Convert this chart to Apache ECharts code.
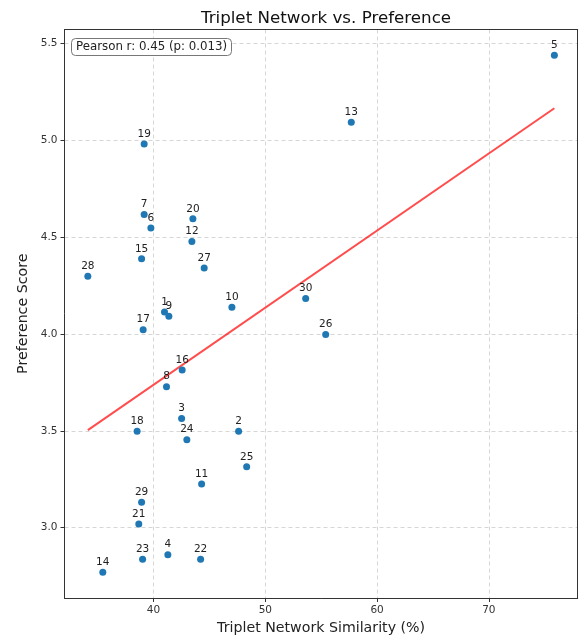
<!DOCTYPE html>
<html>
<head>
<meta charset="utf-8">
<script src="https://cdn.jsdelivr.net/npm/echarts@6/dist/echarts.min.js"></script>
<style>html,body{margin:0;padding:0;background:#fff}#c{width:581px;height:640px}</style>
</head>
<body>
<div id="c"></div>
<script>
const ids = [1,2,3,4,5,6,7,8,9,10,11,12,13,14,15,16,17,18,19,20,21,22,23,24,25,26,27,28,29,30];
const similarity = [40.98,47.61,42.51,41.28,75.86,39.76,39.16,41.16,41.37,47.01,44.30,43.43,57.69,35.46,38.93,42.56,39.07,38.53,39.16,43.52,38.68,44.21,39.02,42.98,48.33,55.40,44.53,34.12,38.93,53.61];
const preference = [4.113,3.498,3.563,2.861,5.436,4.546,4.615,3.727,4.091,4.137,3.225,4.476,5.091,2.771,4.387,3.814,4.021,3.498,4.979,4.593,3.019,2.837,2.837,3.454,3.314,3.996,4.340,4.297,3.132,4.182];
const xTicks = [40,50,60,70];
const yTicks = [3.0,3.5,4.0,4.5,5.0,5.5];
const pearsonText = 'Pearson r: 0.45 (p: 0.013)';

// least squares fit
const n = similarity.length;
const mx = similarity.reduce((a,b)=>a+b,0)/n;
const my = preference.reduce((a,b)=>a+b,0)/n;
let sxy=0,sxx=0;
for(let i=0;i<n;i++){sxy+=(similarity[i]-mx)*(preference[i]-my);sxx+=(similarity[i]-mx)**2;}
const slope=sxy/sxx, intercept=my-slope*mx;
const xmin=Math.min(...similarity), xmax=Math.max(...similarity);
const fitLine=[[xmin,intercept+slope*xmin],[xmax,intercept+slope*xmax]];

const ymin=Math.min(...preference), ymax=Math.max(...preference);
const xr=xmax-xmin, yr=ymax-ymin;
const X0=xmin-0.05*xr, X1=xmax+0.05*xr, Y0=ymin-0.05*yr, Y1=ymax+0.05*yr;

const F='DejaVu Sans';
const edgeAxis={type:'value',axisLine:{show:true,onZero:false,lineStyle:{color:'#333'}},axisTick:{show:false},axisLabel:{show:false},splitLine:{show:false}};
const chart=echarts.init(document.getElementById('c'));
chart.setOption({
  animation:false,
  title:[
    {text:'Triplet Network vs. Preference',left:321,top:5,textAlign:'center',textStyle:{fontFamily:F,fontSize:16.7,fontWeight:'normal',color:'#111'}},
    {text:pearsonText,left:71,top:38,padding:[3,5,3,5],borderColor:'#777',borderWidth:1,borderRadius:4,backgroundColor:'#fff',textStyle:{fontFamily:F,fontSize:11.8,fontWeight:'normal',color:'#222'}}
  ],
  grid:{left:64.5,right:3.3,top:29.5,bottom:40.7},
  xAxis:[{type:'value',min:X0,max:X1,
    name:'Triplet Network Similarity (%)',nameLocation:'middle',nameGap:23,
    nameTextStyle:{fontFamily:F,fontSize:14.2,color:'#222'},
    axisLine:{show:true,onZero:false,lineStyle:{color:'#333'}},
    axisTick:{show:true,length:4,lineStyle:{color:'#333'}},
    axisLabel:{fontFamily:F,fontSize:10.5,color:'#333',margin:7,showMinLabel:false,showMaxLabel:false,
      formatter:v=>xTicks.includes(Math.round(v*1000)/1000)?String(v):''},
    splitLine:{show:true,lineStyle:{color:'#ccc',type:[4,3],width:0.8}}},
    Object.assign({position:'top',min:X0,max:X1},edgeAxis)],
  yAxis:[{type:'value',min:Y0,max:Y1,
    name:'Preference Score',nameLocation:'middle',nameGap:34,
    nameTextStyle:{fontFamily:F,fontSize:14.2,color:'#222'},
    axisLine:{show:true,onZero:false,lineStyle:{color:'#333'}},
    axisTick:{show:true,length:4,lineStyle:{color:'#333'}},
    axisLabel:{fontFamily:F,fontSize:10.5,color:'#333',margin:7,showMinLabel:false,showMaxLabel:false,
      formatter:v=>{const r=Math.round(v*1000)/1000;return yTicks.includes(r)?r.toFixed(1):'';}},
    splitLine:{show:true,lineStyle:{color:'#ccc',type:[4,3],width:0.8}}},
    Object.assign({position:'right',min:Y0,max:Y1},edgeAxis)],
  series:[
    {type:'line',data:fitLine,symbol:'none',z:3,lineStyle:{color:'rgba(255,0,0,0.7)',width:2}},
    {type:'scatter',z:4,symbolSize:7,itemStyle:{color:'#1f77b4',opacity:1},
     data:similarity.map((x,i)=>({value:[x,preference[i]],name:String(ids[i])})),
     label:{show:true,position:'top',distance:1,formatter:p=>p.name,fontFamily:F,fontSize:10.5,color:'#222'}}
  ]
});
</script>
</body>
</html>
